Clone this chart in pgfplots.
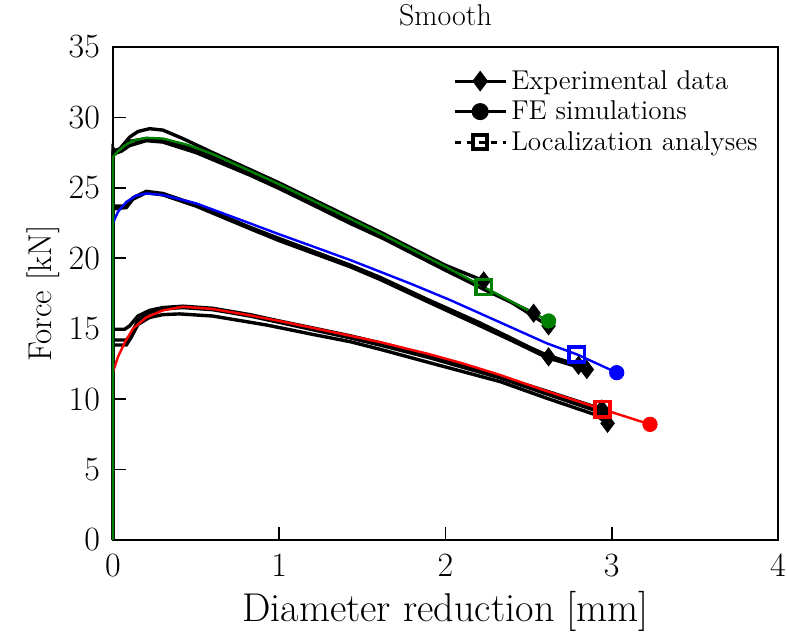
\RequirePackage{fix-cm}
\documentclass[border=0pt]{standalone}
\usepackage{pgfplots}
\pgfplotsset{compat=1.18}
\definecolor{fegreen}{RGB}{0,128,0}
\begin{document}
\begin{tikzpicture}
\useasboundingbox (-56.5pt,-50.5pt) rectangle (337pt,270pt);
\begin{axis}[
  at={(0,0)}, anchor=south west,
  scale only axis, width=332.5pt, height=246.5pt,
  xmin=0, xmax=4, ymin=0, ymax=35,
  xtick={0,1,2,3,4}, ytick={0,5,10,15,20,25,30,35},
  tick align=inside, xtick pos=bottom, ytick pos=left,
  major tick length=6.5pt,
  axis line style={line width=1pt},
  every tick/.style={black, line width=0.8pt},
  tick label style={font=\fontsize{17}{19}\selectfont},
  yticklabel style={xshift=-3pt},
  xticklabel style={yshift=-4pt},
  xlabel={Diameter reduction [mm]}, ylabel={Force [kN]},
  xlabel style={font=\fontsize{20.1}{23}\selectfont, yshift=-0.5pt},
  ylabel style={font=\fontsize{16.5}{19}\selectfont, yshift=-2.5pt},
  title={Smooth}, title style={font=\fontsize{15}{17}\selectfont, yshift=1pt},
  legend style={at={(0.985,0.97)}, anchor=north east, draw=none, fill=none,
    font=\fontsize{13.6}{16}\selectfont, row sep=0.3pt},
  legend cell align=left,
  legend image code/.code={\draw[mark repeat=2,mark phase=2,#1] plot coordinates {(0cm,0cm)(0.45cm,0cm)(0.9cm,0cm)};},
  clip=false,
]
% legend images
\addlegendimage{black, line width=1.5pt, mark=diamond*, mark size=4pt, mark options={solid}}
\addlegendentry{Experimental data}
\addlegendimage{black, line width=1.5pt, mark=*, mark size=3.5pt}
\addlegendentry{FE simulations}
\addlegendimage{black, line width=1.5pt, dashed, mark=square, mark size=3.5pt, mark options={solid, line width=1.8pt}}
\addlegendentry{Localization analyses}

\pgfplotsset{expline/.style={black, line width=1.7pt, forget plot},
  feline/.style={line width=1.2pt, forget plot}}
% ---- experimental, green group
\addplot[expline] coordinates {(0,0)(0,27.8)(0.02,27.5)(0.05,27.9)(0.1,28.6)(0.15,29.0)(0.22,29.2)(0.3,29.1)(0.42,28.5)(0.6,27.5)(0.824,26.3)(1.0,25.35)(1.2,24.2)(1.426,22.9)(1.626,21.75)(1.8,20.7)(2.0,19.5)(2.23,18.4)};
\addplot[expline] coordinates {(0,0)(0,27.4)(0.05,27.6)(0.1,28.0)(0.2,28.35)(0.3,28.25)(0.5,27.5)(0.824,25.9)(1.0,24.95)(1.2,23.8)(1.426,22.48)(1.626,21.4)(1.8,20.35)(2.0,19.15)(2.23,17.8)(2.4,16.85)(2.53,16.1)};
\addplot[expline] coordinates {(0,0)(0,27.6)(0.05,27.8)(0.1,28.3)(0.2,28.5)(0.3,28.4)(0.5,27.7)(0.824,26.0)(1.0,25.1)(1.426,22.65)(1.8,20.5)(2.0,19.3)(2.23,17.9)(2.4,16.85)(2.62,15.2)};
% ---- experimental, blue group
\addplot[expline] coordinates {(0,0)(0,23.7)(0.08,23.7)(0.12,24.3)(0.2,24.75)(0.3,24.6)(0.5,23.8)(0.824,22.2)(1.0,21.4)(1.426,19.52)(1.606,18.65)(1.887,17.1)(2.2,15.45)(2.4,14.3)(2.62,13.0)};
\addplot[expline] coordinates {(0,0)(0,23.6)(0.08,23.65)(0.12,24.25)(0.2,24.7)(0.3,24.55)(0.5,23.75)(0.824,22.15)(1.0,21.3)(1.426,19.45)(1.606,18.55)(1.887,17.0)(2.2,15.3)(2.4,14.2)(2.61,13.13)(2.80,12.4)};
\addplot[expline] coordinates {(0,0)(0,23.5)(0.08,23.6)(0.12,24.2)(0.2,24.65)(0.3,24.5)(0.5,23.7)(0.824,22.1)(1.0,21.25)(1.426,19.4)(1.606,18.5)(1.887,16.95)(2.2,15.25)(2.4,14.15)(2.61,12.95)(2.85,12.1)};
% ---- experimental, red group
\addplot[expline] coordinates {(0,0)(0,14.96)(0.07,14.96)(0.1,15.2)(0.15,15.9)(0.22,16.3)(0.3,16.5)(0.42,16.6)(0.6,16.45)(0.824,16.0)(1.0,15.55)(1.245,14.95)(1.426,14.5)(1.606,14.0)(1.9,13.1)(2.1,12.45)(2.33,11.6)(2.6,10.6)(2.94,9.3)};
\addplot[expline] coordinates {(0,0)(0,14.2)(0.08,14.2)(0.11,14.6)(0.15,15.6)(0.22,16.15)(0.3,16.4)(0.42,16.5)(0.6,16.35)(0.824,15.9)(1.0,15.45)(1.426,14.35)(1.606,13.84)(1.9,12.95)(2.33,11.5)(2.6,10.4)(2.95,9.0)};
\addplot[expline] coordinates {(0,0)(0,13.84)(0.08,13.84)(0.11,14.4)(0.15,15.3)(0.22,15.8)(0.3,16.0)(0.4,16.05)(0.6,15.9)(0.925,15.26)(1.2,14.6)(1.426,14.08)(1.606,13.54)(1.9,12.6)(2.33,11.24)(2.6,10.1)(2.9,8.9)(2.975,8.28)};
% failure points of experiments
\addplot[only marks, black, mark=diamond*, mark size=4.5pt, forget plot] coordinates {(2.23,18.4)(2.53,16.1)(2.62,15.2)(2.62,13.0)(2.80,12.4)(2.85,12.1)(2.94,9.3)(2.95,9.0)(2.975,8.28)};

% ---- FE simulations
\addplot[feline, red] coordinates {(0,0)(0,11.95)(0.03,13.0)(0.07,14.0)(0.12,15.0)(0.2,15.8)(0.3,16.3)(0.42,16.56)(0.6,16.4)(0.824,15.95)(1.0,15.55)(1.245,14.95)(1.426,14.5)(1.606,14.05)(1.9,13.2)(2.1,12.55)(2.33,11.71)(2.6,10.6)(2.945,9.28)(3.23,8.21)};
\addplot[feline, blue] coordinates {(0,0)(0,22.5)(0.03,23.3)(0.08,24.0)(0.14,24.45)(0.2,24.6)(0.3,24.5)(0.5,23.9)(0.824,22.48)(1.0,21.7)(1.2,20.85)(1.426,19.88)(1.606,19.05)(1.8,18.15)(2.027,17.04)(2.3,15.6)(2.61,13.96)(2.79,13.18)(3.03,11.88)};
\addplot[feline, fegreen] coordinates {(0,0)(0,27.2)(0.03,27.6)(0.07,28.0)(0.12,28.35)(0.2,28.55)(0.3,28.5)(0.45,28.05)(0.6,27.4)(0.824,26.2)(1.0,25.25)(1.2,24.1)(1.426,22.8)(1.626,21.65)(1.8,20.6)(2.0,19.4)(2.23,17.96)(2.4,16.9)(2.62,15.55)};
% FE end points
\addplot[only marks, red, mark=*, mark size=3.6pt, forget plot] coordinates {(3.23,8.21)};
\addplot[only marks, blue, mark=*, mark size=3.6pt, forget plot] coordinates {(3.03,11.88)};
\addplot[only marks, fegreen, mark=*, mark size=3.6pt, forget plot] coordinates {(2.62,15.55)};
% localization
\addplot[only marks, red, mark=square, mark size=3.8pt, mark options={line width=1.8pt}, forget plot] coordinates {(2.945,9.28)};
\addplot[only marks, blue, mark=square, mark size=3.8pt, mark options={line width=1.8pt}, forget plot] coordinates {(2.79,13.18)};
\addplot[only marks, fegreen, mark=square, mark size=3.8pt, mark options={line width=1.8pt}, forget plot] coordinates {(2.23,17.96)};
\end{axis}
\end{tikzpicture}
\end{document}
